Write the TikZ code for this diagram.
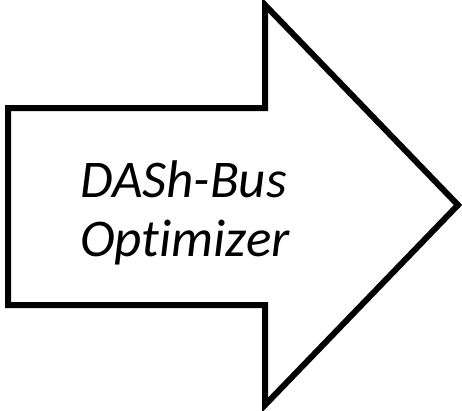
\documentclass[tikz,border=0pt]{standalone}
\usepackage{fontspec}
\setmainfont{Carlito}[Ligatures=NoCommon]
\begin{document}
\begin{tikzpicture}[x=1pt,y=-1pt,
  arrowshape/.style={draw=black,line width=6pt,fill=white,line join=miter},
  label/.style={font=\fontsize{53}{59}\selectfont\itshape,align=left,inner sep=0pt,anchor=west}]
\useasboundingbox (0,0) rectangle (462,410);
\coordinate (a1) at (8,108);
\coordinate (a2) at (265,108);
\coordinate (a3) at (265,5);
\coordinate (tip) at (458,205);
\coordinate (a5) at (265,405);
\coordinate (a6) at (265,305);
\coordinate (a7) at (8,305);
\draw[arrowshape] (a1) -- (a2) -- (a3) -- (tip) -- (a5) -- (a6) -- (a7) -- cycle;
\node[label] (txt) at (80,213) {DASh-Bus\\Optimizer};
\end{tikzpicture}
\end{document}
